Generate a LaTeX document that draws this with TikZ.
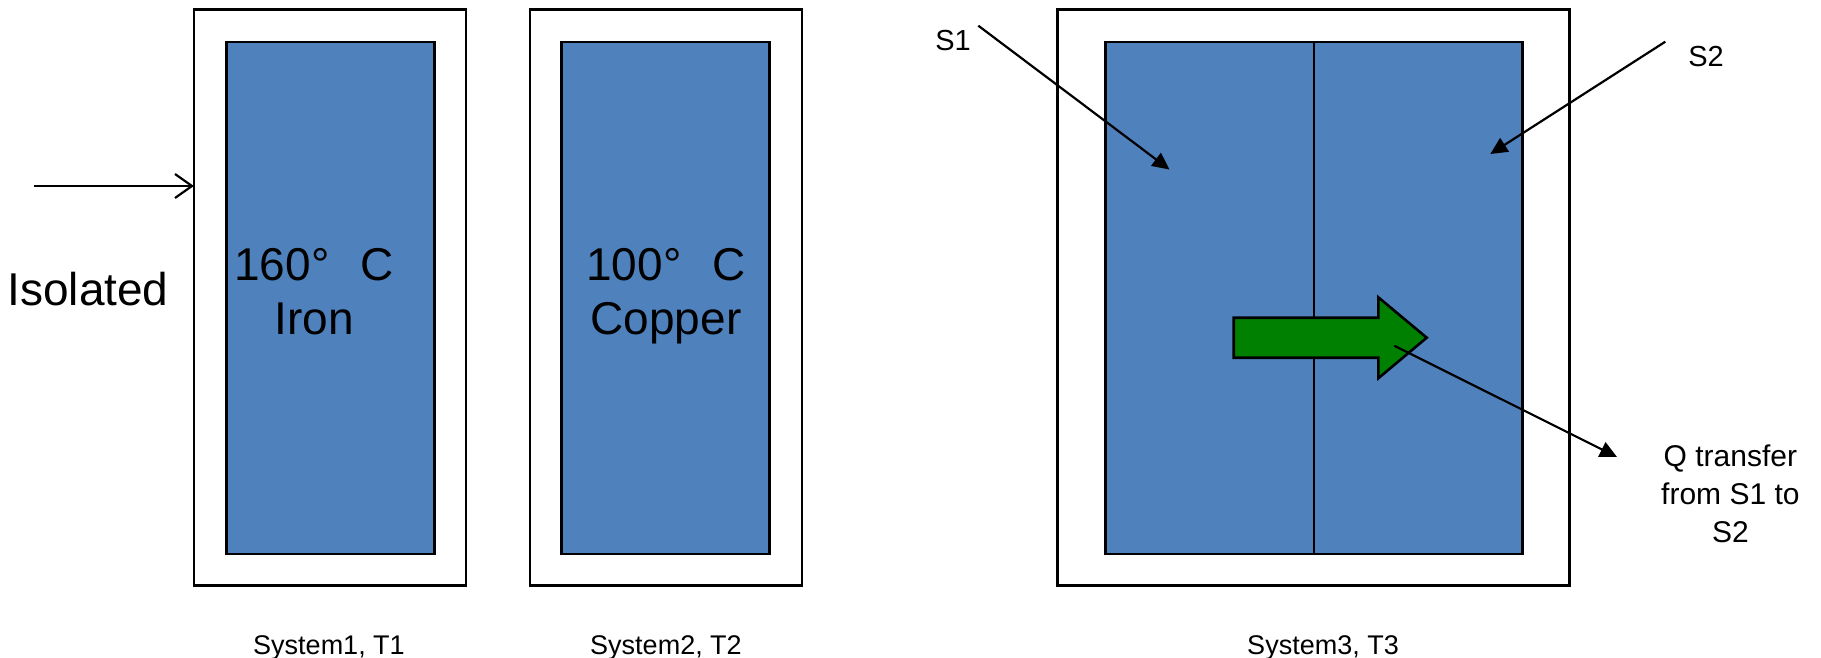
\documentclass[tikz,border=0pt]{standalone}
\usepackage{fontspec}
\setmainfont{Liberation Sans}
\usetikzlibrary{arrows.meta}
\definecolor{fillblue}{RGB}{79,129,189}
\definecolor{heatgreen}{RGB}{0,128,0}
\begin{document}
\begin{tikzpicture}[x=1pt,y=-1pt,
  outerbox/.style={draw=black,line width=2.8pt,fill=white,inner sep=0pt,outer sep=0pt},
  innerbox/.style={draw=black,line width=2.8pt,fill=fillblue,inner sep=0pt,outer sep=0pt},
  txt/.style={inner sep=0pt,anchor=base},
  bigtxt/.style={txt,font=\fontsize{46}{54}\selectfont},
  midtxt/.style={txt,font=\fontsize{29}{35}\selectfont},
  qtxt/.style={txt,font=\fontsize{30}{38}\selectfont},
  captxt/.style={txt,font=\fontsize{27}{32}\selectfont},
  conn/.style={line width=2.2pt,-{Triangle[length=17pt,width=16pt]}},
  openarrow/.style={line width=2.2pt,-{Straight Barb[length=17pt,width=24pt]}},
  heatarrow/.style={fill=heatgreen,draw=black,line width=2.6pt,line join=miter}
]
\useasboundingbox (0,0) rectangle (1821,658);

% system 1
\node[outerbox,minimum width=272pt,minimum height=576pt] (o1) at (329.9,297.3) {};
\node[innerbox,minimum width=208pt,minimum height=512pt] (i1) at (330.1,298) {};
\node[bigtxt] (t1) at (314,280) {\begin{tabular}[t]{@{}c@{}}160°\hspace{31pt}C\\Iron\end{tabular}};

% system 2
\node[outerbox,minimum width=272pt,minimum height=576pt] (o2) at (666,297.3) {};
\node[innerbox,minimum width=208pt,minimum height=512pt] (i2) at (665.8,298) {};
\node[bigtxt] (t2) at (666,280) {\begin{tabular}[t]{@{}c@{}}100°\hspace{31pt}C\\Copper\end{tabular}};

% system 3
\node[outerbox,minimum width=512pt,minimum height=576pt] (o3) at (1313.5,297.3) {};
\node[innerbox,minimum width=417pt,minimum height=512pt] (i3) at (1314.1,298) {};
\draw[line width=2.4pt] (i3.north) -- (i3.south);

% heat arrow
\coordinate (ha1) at (1233.7,317.7);
\coordinate (ha2) at (1378.3,317.7);
\coordinate (ha3) at (1378.3,297.3);
\coordinate (ha4) at (1426.7,337.7);
\coordinate (ha5) at (1378.3,378.3);
\coordinate (ha6) at (1378.3,357.7);
\coordinate (ha7) at (1233.7,357.7);
\path[heatarrow] (ha1) -- (ha2) -- (ha3) -- (ha4) -- (ha5) -- (ha6) -- (ha7) -- cycle;

% isolated
\node[bigtxt] (iso) at (88,305) {Isolated};
\coordinate (isostart) at (34,186);
\draw[openarrow] (isostart) -- (isostart -| o1.west);

% labels S1, S2, Q
\node[midtxt] (s1) at (953,51) {S1};
\node[midtxt] (s2) at (1706,66.7) {S2};
\node[qtxt] (q) at (1730.4,466.7) {\begin{tabular}[t]{@{}c@{}}Q transfer\\from S1 to\\S2\end{tabular}};

\coordinate (s1start) at (978.3,25.7);
\coordinate (s1tip) at (1169.5,169.5);
\coordinate (s2start) at (1665.3,41.7);
\coordinate (s2tip) at (1490.3,154);
\coordinate (qstart) at (1394.3,345.7);
\coordinate (qtip) at (1617,457);
\draw[conn] (s1start) -- (s1tip);
\draw[conn] (s2start) -- (s2tip);
\draw[conn] (qstart) -- (qtip);

% captions
\node[captxt] (c1) at (329,654.3) {System1, T1};
\node[captxt] (c2) at (666,654.3) {System2, T2};
\node[captxt] (c3) at (1323,654.3) {System3, T3};
\end{tikzpicture}
\end{document}
